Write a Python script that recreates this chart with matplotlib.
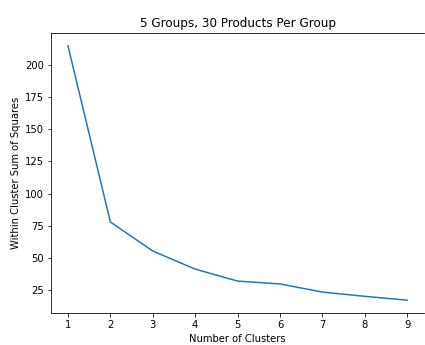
import matplotlib
matplotlib.use("Agg")
import matplotlib.pyplot as plt

clusters = [1, 2, 3, 4, 5, 6, 7, 8, 9]
wcss = [214.5, 78, 55.5, 41.5, 32.2, 30.0, 23.7, 20.4, 17.4]

fig = plt.figure(figsize=(425/72, 345/72), dpi=72)
ax = fig.add_axes([0.12, 0.093, 0.878, 0.811])
ax.plot(clusters, wcss)
ax.set_xlabel("Number of Clusters")
ax.set_ylabel("Within Cluster Sum of Squares")
ax.set_title("5 Groups, 30 Products Per Group")
ax.spines["right"].set_visible(False)
fig.savefig("out.png", dpi=72)
